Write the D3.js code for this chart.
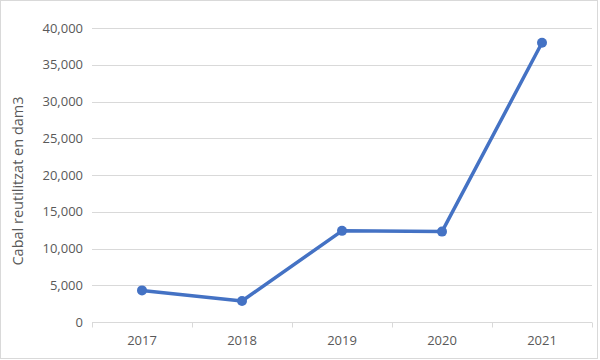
<!DOCTYPE html>
<html lang="en">
<head>
    <meta charset="UTF-8">
    <title>Cabal reutilitzat</title>
    <script src="https://d3js.org/d3.v7.min.js"></script>
    <style>
        body{
            margin: 0;
            background: white;
        }
        svg{
            display: block;
            font-family: "Open Sans", "Noto Sans", sans-serif;
        }
    </style>
</head>
<body>
<svg></svg>
<script>
    const years = ["2017", "2018", "2019", "2020", "2021"];
    const cabal = [4300, 2850, 12400, 12300, 38000];
    const yTicks = [0, 5000, 10000, 15000, 20000, 25000, 30000, 35000, 40000];

    const width = 600;
    const height = 360;
    const margin = {top: 28, right: 8, bottom: 38, left: 92};

    const svg = d3.select("svg")
        .attr("width", width)
        .attr("height", height);

    // chart border
    svg.append("rect")
        .attr("x", 0.5).attr("y", 0.5)
        .attr("width", 597).attr("height", 358)
        .attr("fill", "white")
        .attr("stroke", "#d9d9d9");

    const x = d3.scaleBand()
        .domain(years)
        .range([margin.left, width - margin.right]);

    const y = d3.scaleLinear()
        .domain([0, 40000])
        .range([height - margin.bottom, margin.top]);

    // gridlines
    svg.append("g")
        .selectAll("line")
        .data(yTicks.slice(1))
        .enter()
        .append("line")
        .attr("x1", margin.left).attr("x2", width - margin.right)
        .attr("y1", d => Math.round(y(d)) + 0.5)
        .attr("y2", d => Math.round(y(d)) + 0.5)
        .attr("stroke", "#d9d9d9")
        .attr("stroke-width", 1);

    // y labels
    svg.append("g")
        .selectAll("text")
        .data(yTicks)
        .enter()
        .append("text")
        .attr("x", 83)
        .attr("y", d => y(d))
        .attr("dy", "0.35em")
        .attr("text-anchor", "end")
        .attr("fill", "#595959")
        .attr("font-size", 13)
        .text(d => d3.format(",")(d));

    // x axis
    const gx = svg.append("g")
        .attr("transform", `translate(0,${Math.round(y(0)) + 0.5})`);
    gx.append("line")
        .attr("x1", margin.left).attr("x2", width - margin.right)
        .attr("stroke", "#d9d9d9");
    const edges = years.map(d => x(d)).concat([x.range()[1]]);
    gx.selectAll(".tick-mark")
        .data(edges)
        .enter()
        .append("line")
        .attr("class", "tick-mark")
        .attr("x1", d => Math.round(d) + 0.5).attr("x2", d => Math.round(d) + 0.5)
        .attr("y1", 0).attr("y2", 5)
        .attr("stroke", "#d9d9d9");
    gx.selectAll(".xlabel")
        .data(years)
        .enter()
        .append("text")
        .attr("class", "xlabel")
        .attr("x", d => x(d) + x.bandwidth() / 2)
        .attr("y", 22)
        .attr("text-anchor", "middle")
        .attr("fill", "#595959")
        .attr("font-size", 13)
        .text(d => d);

    // y axis title
    svg.append("text")
        .attr("transform", `translate(23,${(margin.top + height - margin.bottom) / 2 + 6}) rotate(-90)`)
        .attr("text-anchor", "middle")
        .attr("fill", "#595959")
        .attr("font-size", 14.5)
        .text("Cabal reutilitzat en dam3");

    // line and markers
    const pts = years.map((d, i) => [x(d) + x.bandwidth() / 2, y(cabal[i])]);
    svg.append("path")
        .attr("d", d3.line()(pts))
        .attr("fill", "none")
        .attr("stroke", "#4472C4")
        .attr("stroke-width", 3.5)
        .attr("stroke-linejoin", "round");
    svg.append("g")
        .selectAll("circle")
        .data(pts)
        .enter()
        .append("circle")
        .attr("cx", d => d[0]).attr("cy", d => d[1])
        .attr("r", 5)
        .attr("fill", "#4472C4");
</script>
</body>
</html>
